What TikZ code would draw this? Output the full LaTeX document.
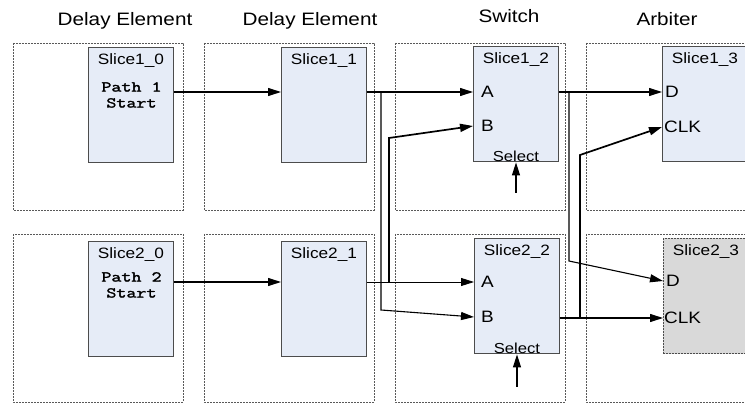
\documentclass[tikz,border=0pt]{standalone}
\usepackage{fontspec}
\setmainfont[FakeStretch=1.15]{Liberation Sans}
\newfontfamily\pathfont[FakeStretch=1.3, FakeBold=2]{Latin Modern Mono}
\usetikzlibrary{arrows.meta}
\definecolor{slicefill}{RGB}{230,236,247}
\definecolor{arbfill}{RGB}{217,217,217}
\tikzstyle{cell} = [draw=black!65, line width=0.7pt, dash pattern=on 2pt off 1pt]
\tikzstyle{slice} = [draw=black!70, fill=slicefill, line width=0.9pt, anchor=north west, inner sep=0pt, minimum width=85pt, minimum height=115.5pt]
\tikzstyle{arb} = [slice, fill=arbfill, dash pattern=on 2pt off 1pt]
\tikzstyle{tag} = [anchor=base, yshift=-18pt, inner sep=0pt, font=\fontsize{15}{17}\selectfont]
\tikzstyle{title} = [anchor=base, inner sep=0pt, font=\fontsize{18}{20}\selectfont]
\tikzstyle{port} = [anchor=west, inner sep=0pt, font=\fontsize{16.5}{18}\selectfont]
\tikzstyle{sel} = [anchor=south, inner sep=0.5pt, font=\fontsize{14.5}{16}\selectfont]
\tikzstyle{start} = [anchor=north, inner sep=0pt, align=center, font=\pathfont\fontsize{15}{16}\selectfont]
\tikzstyle{wire} = [line width=1.1pt, -{Triangle[length=13pt,width=8pt]}]
\tikzstyle{bus} = [wire, line width=1.7pt]
\tikzstyle{thin} = [wire, line width=0.8pt]

\begin{document}
\begin{tikzpicture}[x=1pt, y=-1pt]
    \useasboundingbox (0,0) rectangle (745,403);
    \clip (0,0) rectangle (745,403);

    % columns and rows of slices
    \foreach \x in {13,204,395,586}
    \foreach \y/\h in {43/210, 234/402}
    \draw[cell] (\x,\y) rectangle (\x+170,\h);

    \node[title] (t0) at (125,26) {Delay Element};
    \node[title] (t1) at (310,26) {Delay Element};
    \node[title] (t2) at (509,23) {Switch};
    \node[title] (t3) at (667,26) {Arbiter};

    % path 1
    \node[slice, label={[tag]north:Slice1\_0}] (s10) at (88,47) {};
    \node[slice, label={[tag]north:Slice1\_1}] (s11) at (281,47) {};
    \node[slice, label={[tag]north:Slice1\_2}] (s12) at (473,46) {};
    \node[slice, label={[tag]north:Slice1\_3}] (s13) at (662,46) {};
    % path 2
    \node[slice, label={[tag]north:Slice2\_0}] (s20) at (88,241) {};
    \node[slice, label={[tag]north:Slice2\_1}] (s21) at (281,241) {};
    \node[slice, label={[tag]north:Slice2\_2}] (s22) at (474,238) {};
    \node[arb, label={[tag]north:Slice2\_3}] (s23) at (663,238) {};

    \node[start] (p1) at (131.5,82) {Path 1\\Start};
    \node[start] (p2) at (131.5,272) {Path 2\\Start};

    % ports
    \foreach \n/\t/\x/\y in {s12A/A/481/92, s12B/B/481/126, s13D/D/665/92, s13C/CLK/664/127,
                             s22A/A/481/282, s22B/B/481/317, s23D/D/666/281, s23C/CLK/664/318}
    \node[port] (\n) at (\x,\y) {\t};
    \node[sel] (sel1) at (s12.south) {Select};
    \node[sel] (sel2) at (s22.south) {Select};

    \coordinate (r1) at (0,92);
    \coordinate (r2) at (0,282);
    \coordinate (j1) at (381,92);  \coordinate (k1) at (381,310);
    \coordinate (j2) at (389,282); \coordinate (k2) at (389,138);
    \coordinate (j3) at (569,92);  \coordinate (k3) at (569,261);
    \coordinate (j4) at (580,318); \coordinate (k4) at (580,155);
    \coordinate (c1) at (516,193);
    \coordinate (c2) at (517,387);

    \draw[wire] (s10.east |- r1) -- (s11.west |- r1);
    \draw[wire] (s20.east |- r2) -- (s21.west |- r2);
    \draw[wire] (s11.east |- r1) -- (s12.west |- s12A);
    \draw[thin] (s21.east |- r2) -- (s22.west |- s22A);
    \draw[wire] (j1) -- (k1) -- (s22.west |- s22B);
    \draw[bus] (j2) -- (k2) -- (s12.west |- s12B);

    \draw[wire] (s12.east |- s12A) -- (s13.west |- s13D);
    \draw[wire] (s22.east |- j4) -- (s23.west |- s23C);
    \draw[wire] (j3) -- (k3) -- (s23.west |- s23D);
    \draw[bus] (j4) -- (k4) -- (s13.west |- s13C);

    \draw[wire] (c1) -- (c1 |- s12.south);
    \draw[wire] (c2) -- (c2 |- s22.south);
\end{tikzpicture}
\end{document}
